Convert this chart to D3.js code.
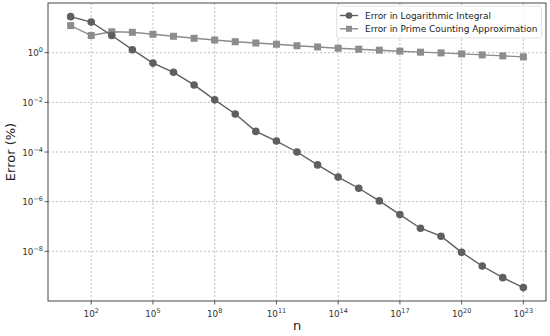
<!DOCTYPE html>
<meta charset="utf-8">
<style>
body { margin: 0; background: #fff; }
text { font-family: "DejaVu Sans", sans-serif; }
.grid line { stroke: #b0b0b0; stroke-dasharray: 2,2; stroke-width: 0.8px; }
</style>
<svg width="550" height="336"></svg>
<script src="https://d3js.org/d3.v7.min.js"></script>
<script>

// exponents of n (n = 10^k)
var exps = d3.range(1, 24);
// log10 of the error (%)
var logIntErr = [1.45, 1.23, 0.69, 0.12, -0.42, -0.79, -1.30, -1.90, -2.47, -3.17, -3.56,
                 -4.00, -4.52, -5.01, -5.46, -5.97, -6.52, -7.07, -7.39, -8.04, -8.59, -9.06, -9.46];
var primeErr = [1.09, 0.69, 0.84, 0.82, 0.74, 0.66, 0.58, 0.51, 0.44, 0.39, 0.34,
                0.28, 0.23, 0.18, 0.14, 0.10, 0.06, 0.02, -0.01, -0.05, -0.09, -0.13, -0.17];
var xTicks = [2, 5, 8, 11, 14, 17, 20, 23];
var yTicks = [0, -2, -4, -6, -8];
var legendNames = ["Error in Logarithmic Integral", "Error in Prime Counting Approximation"];

var svg = d3.select("svg");
var pLeft = 48, pRight = 546, pTop = 3, pBottom = 301;

var x = d3.scaleLog().domain([Math.pow(10, -0.1), Math.pow(10, 24.1)]).range([pLeft, pRight]);
var y = d3.scaleLog().domain([1e-10, 1e2]).range([pBottom, pTop]);

function sup(sel, e) {
  sel.append("tspan").text("10");
  sel.append("tspan").attr("dy", -4).attr("font-size", "6.5px").text(e < 0 ? "\u2212" + (-e) : e);
}

// grid
var grid = svg.append("g").attr("class", "grid");
grid.selectAll(".gx").data(xTicks).enter().append("line")
    .attr("x1", function(d) { return x(Math.pow(10, d)); })
    .attr("x2", function(d) { return x(Math.pow(10, d)); })
    .attr("y1", pTop).attr("y2", pBottom);
grid.selectAll(".gy").data(yTicks).enter().append("line")
    .attr("y1", function(d) { return y(Math.pow(10, d)); })
    .attr("y2", function(d) { return y(Math.pow(10, d)); })
    .attr("x1", pLeft).attr("x2", pRight);

// ticks + labels
var xt = svg.append("g");
xTicks.forEach(function(d) {
  var px = x(Math.pow(10, d));
  xt.append("line").attr("x1", px).attr("x2", px).attr("y1", pBottom).attr("y2", pBottom + 3.5)
    .attr("stroke", "#333").attr("stroke-width", 0.8);
  var t = xt.append("text").attr("x", px).attr("y", pBottom + 16).attr("text-anchor", "middle")
    .attr("font-size", "8.8px").attr("fill", "#333");
  sup(t, d);
});
var yt = svg.append("g");
yTicks.forEach(function(d) {
  var py = y(Math.pow(10, d));
  yt.append("line").attr("x1", pLeft - 3.5).attr("x2", pLeft).attr("y1", py).attr("y2", py)
    .attr("stroke", "#333").attr("stroke-width", 0.8);
  var t = yt.append("text").attr("x", pLeft - 5).attr("y", py + 3.5).attr("text-anchor", "end")
    .attr("font-size", "8.8px").attr("fill", "#333");
  sup(t, d);
});

// frame
svg.append("rect").attr("x", pLeft).attr("y", pTop).attr("width", pRight - pLeft).attr("height", pBottom - pTop)
    .attr("fill", "none").attr("stroke", "#333").attr("stroke-width", 0.9);

// axis titles
svg.append("text").attr("x", 297).attr("y", 330).attr("text-anchor", "middle")
    .attr("font-size", "13px").attr("fill", "#222").text("n");
svg.append("text").attr("transform", "translate(15,152) rotate(-90)").attr("text-anchor", "middle")
    .attr("font-size", "13px").attr("fill", "#222").text("Error (%)");

var line = d3.line()
    .x(function(d) { return x(Math.pow(10, d[0])); })
    .y(function(d) { return y(Math.pow(10, d[1])); });

var s1 = exps.map(function(e, i) { return [e, logIntErr[i]]; });
var s2 = exps.map(function(e, i) { return [e, primeErr[i]]; });
var c1 = "#5f5f5f", c2 = "#8c8c8c";

svg.append("path").datum(s2).attr("d", line).attr("fill", "none").attr("stroke", c2).attr("stroke-width", 1.4);
svg.selectAll(".sq").data(s2).enter().append("rect")
    .attr("x", function(d) { return x(Math.pow(10, d[0])) - 3.5; })
    .attr("y", function(d) { return y(Math.pow(10, d[1])) - 3.5; })
    .attr("width", 7).attr("height", 7).attr("fill", c2);

svg.append("path").datum(s1).attr("d", line).attr("fill", "none").attr("stroke", c1).attr("stroke-width", 1.4);
svg.selectAll(".ci").data(s1).enter().append("circle")
    .attr("cx", function(d) { return x(Math.pow(10, d[0])); })
    .attr("cy", function(d) { return y(Math.pow(10, d[1])); })
    .attr("r", 3.8).attr("fill", c1);

// legend
var lg = svg.append("g");
lg.append("rect").attr("x", 336.5).attr("y", 6).attr("width", 205).attr("height", 32).attr("rx", 2)
    .attr("fill", "#fff").attr("fill-opacity", 0.8).attr("stroke", "#ddd").attr("stroke-width", 0.8);
[c1, c2].forEach(function(c, i) {
  var ly = 15.5 + i * 13.3;
  lg.append("line").attr("x1", 340).attr("x2", 358).attr("y1", ly).attr("y2", ly)
    .attr("stroke", c).attr("stroke-width", 1.4);
  if (i == 0) lg.append("circle").attr("cx", 349).attr("cy", ly).attr("r", 3.3).attr("fill", c);
  else lg.append("rect").attr("x", 346).attr("y", ly - 3).attr("width", 6).attr("height", 6).attr("fill", c);
  lg.append("text").attr("x", 365).attr("y", ly + 3).attr("font-size", "8.95px").attr("fill", "#222")
    .text(legendNames[i]);
});
</script>
